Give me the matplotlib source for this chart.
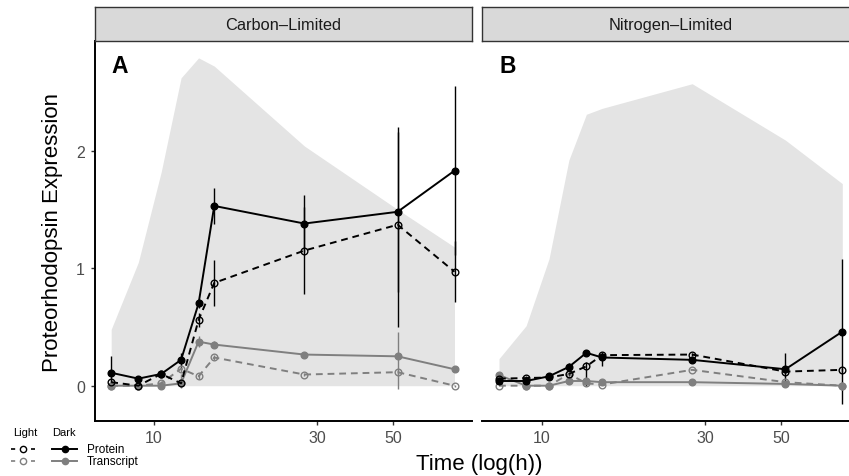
import numpy as np
import matplotlib
matplotlib.use("Agg")
from matplotlib import pyplot as plt
from matplotlib.lines import Line2D
from matplotlib.ticker import FixedLocator, NullLocator

plt.rcParams['font.family'] = ['Liberation Sans', 'DejaVu Sans']

# sampling times (h)
time = [7.5, 9, 10.5, 12, 13.5, 15, 27.5, 51.5, 75.5]

panels = ['Carbon\u2013Limited', 'Nitrogen\u2013Limited']
letters = ['A', 'B']

# light intensity envelope (grey area)
light_carbon = [0.48, 1.05, 1.82, 2.62, 2.79, 2.72, 2.04, 1.50, 1.18]
light_nitrogen = [0.23, 0.51, 1.08, 1.92, 2.31, 2.36, 2.57, 2.09, 1.72]

# Carbon-limited series
c_prot_dark = [0.11, 0.06, 0.10, 0.22, 0.70, 1.53, 1.38, 1.48, 1.83]
c_prot_dark_lo = [-0.03, 0.04, 0.08, 0.16, 0.66, 1.38, 1.14, 0.80, 1.11]
c_prot_dark_hi = [0.25, 0.08, 0.12, 0.28, 0.74, 1.68, 1.62, 2.16, 2.55]
c_prot_light = [0.03, 0.00, 0.10, 0.02, 0.56, 0.875, 1.15, 1.37, 0.97]
c_prot_light_lo = [0.00, -0.01, 0.08, 0.00, 0.50, 0.68, 0.78, 0.50, 0.71]
c_prot_light_hi = [0.06, 0.01, 0.12, 0.05, 0.62, 1.07, 1.52, 2.20, 1.23]
c_tran_dark = [0.00, 0.00, 0.00, 0.02, 0.375, 0.35, 0.265, 0.25, 0.14]
c_tran_dark_lo = [-0.01, -0.01, -0.01, -0.02, 0.33, 0.32, 0.24, -0.03, 0.12]
c_tran_dark_hi = [0.01, 0.01, 0.01, 0.10, 0.42, 0.38, 0.29, 0.46, 0.16]
c_tran_light = [0.00, 0.00, 0.02, 0.145, 0.08, 0.24, 0.095, 0.115, 0.00]
c_tran_light_lo = [-0.01, -0.01, 0.00, 0.12, 0.06, 0.22, 0.08, 0.09, -0.01]
c_tran_light_hi = [0.01, 0.01, 0.04, 0.18, 0.10, 0.26, 0.11, 0.14, 0.01]

# Nitrogen-limited series
n_prot_dark = [0.04, 0.04, 0.08, 0.16, 0.28, 0.24, 0.22, 0.14, 0.46]
n_prot_dark_lo = [0.02, 0.02, 0.06, 0.13, 0.26, 0.22, 0.20, 0.00, -0.16]
n_prot_dark_hi = [0.06, 0.06, 0.10, 0.19, 0.30, 0.26, 0.24, 0.28, 1.08]
n_prot_light = [0.06, 0.065, 0.07, 0.10, 0.165, 0.26, 0.265, 0.12, 0.135]
n_prot_light_lo = [0.02, 0.05, 0.05, 0.08, 0.00, 0.17, 0.25, 0.10, 0.12]
n_prot_light_hi = [0.10, 0.08, 0.09, 0.12, 0.20, 0.29, 0.28, 0.14, 0.15]
n_tran_dark = [0.09, 0.00, 0.00, 0.04, 0.04, 0.03, 0.03, 0.015, 0.00]
n_tran_light = [0.00, 0.00, 0.00, 0.10, 0.02, 0.01, 0.135, 0.03, 0.00]

W, H = 849, 477
fig = plt.figure(figsize=(W / 100, H / 100), dpi=100)


def fx(px):
    return px / W


def fy(py):
    return 1 - py / H


ax_b, ax_w, ax_h = 422.3, 377.2, 380.0
lefts = [94.5, 482.3]

series = {
    0: dict(area=light_carbon,
            pd=(c_prot_dark, c_prot_dark_lo, c_prot_dark_hi),
            pl=(c_prot_light, c_prot_light_lo, c_prot_light_hi),
            td=(c_tran_dark, c_tran_dark_lo, c_tran_dark_hi),
            tl=(c_tran_light, c_tran_light_lo, c_tran_light_hi)),
    1: dict(area=light_nitrogen,
            pd=(n_prot_dark, n_prot_dark_lo, n_prot_dark_hi),
            pl=(n_prot_light, n_prot_light_lo, n_prot_light_hi),
            td=(n_tran_dark, None, None),
            tl=(n_tran_light, None, None)),
}

grey = '#7f7f7f'
ms = 4.8
lw = 1.4

for i, left in enumerate(lefts):
    ax = fig.add_axes([fx(left), fy(ax_b), fx(ax_w), ax_h / H])
    s = series[i]
    ax.fill_between(time, 0, s['area'], color='#e4e4e4', lw=0, zorder=1)

    styles = [('tl', grey, '--', 'none'), ('td', grey, '-', grey),
              ('pl', 'black', '--', 'none'), ('pd', 'black', '-', 'black')]
    for key, col, ls, fc in styles:
        y, lo, hi = s[key]
        if lo is not None:
            ax.vlines(time, lo, hi, color=col, lw=1.0, zorder=2)
        ax.plot(time, y, ls=ls, color=col, lw=lw, marker='o', ms=ms,
                mfc=fc, mec=col, mew=1.0, zorder=3,
                dashes=(3.5, 2.5) if ls == '--' else (None, None))

    ax.set_xscale('log')
    ax.set_xlim(6.703, 84.76)
    ax.set_ylim(-0.303, 2.931)
    ax.xaxis.set_major_locator(FixedLocator([10, 30, 50]))
    ax.xaxis.set_minor_locator(NullLocator())
    ax.set_xticklabels(['10', '30', '50'])
    ax.set_yticks([0, 1, 2])
    ax.tick_params(axis='both', colors='#333333', labelcolor='#4d4d4d',
                   labelsize=11.5, length=3, width=1.0, pad=3)
    ax.tick_params(axis='y', pad=4)
    for sp in ['top', 'right']:
        ax.spines[sp].set_visible(False)
    ax.spines['bottom'].set_linewidth(1.4)
    ax.spines['left'].set_linewidth(1.4)
    if i == 1:
        ax.spines['left'].set_visible(False)
        ax.tick_params(axis='y', left=False, labelleft=False)
    ax.patch.set_alpha(0)

    ax.text(17 / ax_w, 1 - (73.3 - 42.3) / ax_h, letters[i],
            transform=ax.transAxes, fontsize=16.5, fontweight='bold',
            ha='left', va='baseline')

    # facet strip
    sx = fig.add_axes([fx(left), fy(42.3), fx(ax_w), 34 / H])
    sx.set_facecolor('#d9d9d9')
    sx.set_xticks([])
    sx.set_yticks([])
    for sp in sx.spines.values():
        sp.set_color('#333333')
        sp.set_linewidth(1.0)
    sx.text(0.5, 0.5, panels[i], ha='center', va='center',
            fontsize=11.8, color='#1a1a1a', transform=sx.transAxes)

fig.text(fx(53), fy(232), 'Proteorhodopsin Expression', rotation=90,
         ha='center', va='center', fontsize=16)
fig.text(fx(479), fy(465), 'Time (log(h))', ha='center', va='center',
         fontsize=16)

# manual legend
fig.text(fx(13), fy(433), 'Light', ha='left', va='center', fontsize=8)
fig.text(fx(52), fy(433), 'Dark', ha='left', va='center', fontsize=8)
rows = [(450, 'black', 'Protein'), (462, grey, 'Transcript')]
for yy, col, lab in rows:
    fig.add_artist(Line2D([fx(11), fx(35)], [fy(yy), fy(yy)], color=col,
                          lw=1.2, ls='--', dashes=(2.5, 3.5),
                          transform=fig.transFigure))
    fig.add_artist(Line2D([fx(23)], [fy(yy)], color=col, marker='o', ms=4.5,
                          mfc='white', mec=col, mew=1.0,
                          transform=fig.transFigure))
    fig.add_artist(Line2D([fx(52), fx(77)], [fy(yy), fy(yy)], color=col,
                          lw=1.4, transform=fig.transFigure))
    fig.add_artist(Line2D([fx(64.5)], [fy(yy)], color=col, marker='o', ms=4.5,
                          mfc=col, mec=col, transform=fig.transFigure))
    fig.text(fx(87), fy(yy), lab, ha='left', va='center', fontsize=8.5)

plt.savefig('out.png', dpi=100)
